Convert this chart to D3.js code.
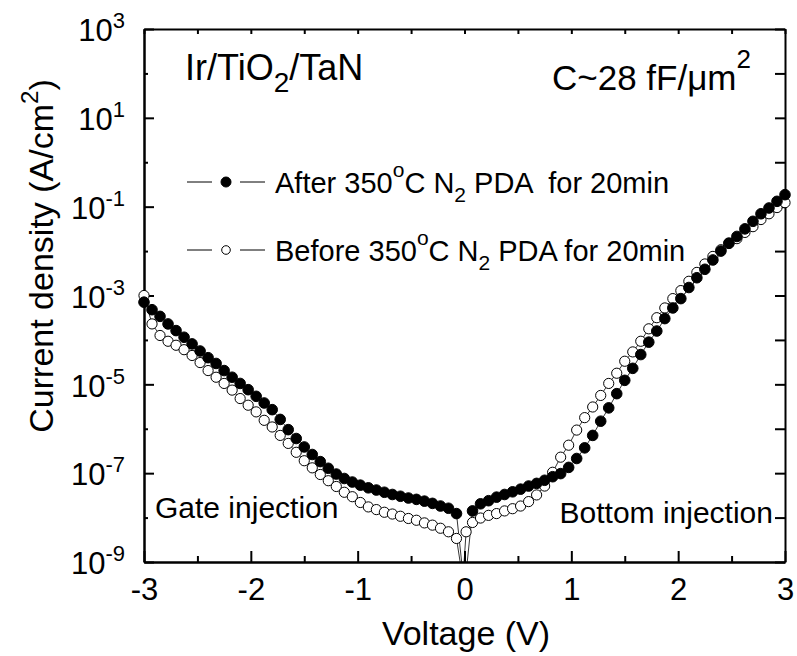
<!DOCTYPE html>
<html>
<head>
<meta charset="utf-8">
<script src="https://cdn.jsdelivr.net/npm/d3@7"></script>
<style>
  body { margin: 0; background: #fff; }
  text { font-family: "Liberation Sans", Arial, sans-serif; fill: #000; white-space: pre; }
</style>
</head>
<body>
<svg id="chart" width="797" height="656"></svg>
<script>
// ----- Data (log10 of current density, A/cm^2) ------------------------------
var AFTER_V = [-3, -2.925, -2.85, -2.775, -2.7, -2.625, -2.55, -2.475, -2.4, -2.325,
  -2.25, -2.175, -2.1, -2.025, -1.95, -1.875, -1.8, -1.725, -1.65, -1.575,
  -1.5, -1.425, -1.35, -1.275, -1.2, -1.125, -1.05, -0.975, -0.9, -0.825,
  -0.75, -0.675, -0.6, -0.525, -0.45, -0.375, -0.3, -0.225, -0.15, -0.075,
  0, 0.075, 0.15, 0.225, 0.3, 0.375, 0.45, 0.525, 0.6, 0.675,
  0.75, 0.825, 0.9, 0.975, 1.05, 1.125, 1.2, 1.275, 1.35, 1.425,
  1.5, 1.575, 1.65, 1.725, 1.8, 1.875, 1.95, 2.025, 2.1, 2.175,
  2.25, 2.325, 2.4, 2.475, 2.55, 2.625, 2.7, 2.775, 2.85, 2.925, 3];
var AFTER_LOGJ = [-3.15, -3.32, -3.47, -3.64, -3.79, -3.94, -4.09, -4.25, -4.40, -4.53,
  -4.69, -4.84, -4.98, -5.12, -5.27, -5.42, -5.57, -5.79, -6.02, -6.22,
  -6.41, -6.58, -6.74, -6.89, -7.02, -7.12, -7.20, -7.27, -7.33, -7.38,
  -7.43, -7.48, -7.52, -7.56, -7.59, -7.63, -7.68, -7.74, -7.79, -7.91,
  -9.6, -7.85, -7.69, -7.62, -7.54, -7.48, -7.42, -7.36, -7.29, -7.23,
  -7.16, -7.08, -7.01, -6.87, -6.67, -6.43, -6.15, -5.83, -5.53, -5.21,
  -4.91, -4.64, -4.33, -4.05, -3.80, -3.52, -3.28, -3.07, -2.82, -2.60,
  -2.41, -2.20, -2.00, -1.82, -1.67, -1.50, -1.33, -1.16, -1.03, -0.88, -0.73];

var BEFORE_V = [-3, -2.925, -2.85, -2.775, -2.7, -2.625, -2.55, -2.475, -2.4, -2.325,
  -2.25, -2.175, -2.1, -2.025, -1.95, -1.875, -1.8, -1.725, -1.65, -1.575,
  -1.5, -1.425, -1.35, -1.275, -1.2, -1.125, -1.05, -0.975, -0.9, -0.825,
  -0.75, -0.675, -0.6, -0.525, -0.45, -0.375, -0.3, -0.225, -0.15, -0.075,
  -0.015, 0.015, 0.075, 0.15, 0.225, 0.3, 0.375, 0.45, 0.525, 0.6, 0.675,
  0.75, 0.825, 0.9, 0.975, 1.05, 1.125, 1.2, 1.275, 1.35, 1.425,
  1.5, 1.575, 1.65, 1.725, 1.8, 1.875, 1.95, 2.025, 2.1, 2.175,
  2.25, 2.325, 2.4, 2.475, 2.55, 2.625, 2.7, 2.775, 2.85, 2.925, 3];
var BEFORE_LOGJ = [-3.00, -3.64, -3.90, -4.03, -4.12, -4.22, -4.35, -4.51, -4.69, -4.84,
  -4.98, -5.13, -5.32, -5.47, -5.62, -5.81, -5.96, -6.15, -6.33, -6.53,
  -6.72, -6.88, -7.03, -7.17, -7.30, -7.43, -7.53, -7.66, -7.76, -7.82,
  -7.88, -7.92, -7.97, -8.02, -8.06, -8.12, -8.17, -8.24, -8.32, -8.47,
  -9.4, -8.32, -8.11, -8.01, -7.95, -7.91, -7.85, -7.80, -7.74, -7.64, -7.49,
  -7.29, -6.98, -6.64, -6.37, -6.03, -5.75, -5.51, -5.25, -4.98, -4.75,
  -4.48, -4.27, -4.03, -3.75, -3.50, -3.28, -3.07, -2.89, -2.68, -2.48,
  -2.29, -2.12, -1.97, -1.83, -1.72, -1.58, -1.45, -1.29, -1.16, -1.02, -0.91];

var X_MAJOR = [-3, -2, -1, 0, 1, 2, 3];
var X_MINOR = [-2.5, -1.5, -0.5, 0.5, 1.5, 2.5];
var Y_LABELED = [1e3, 1e1, 1e-1, 1e-3, 1e-5, 1e-7, 1e-9];
var Y_UNLABELED = [1e2, 1e0, 1e-2, 1e-4, 1e-6, 1e-8];

var SVG = d3.select('#chart');
var FONT_TICK = 31;

function toPoints(vs, logs) {
  return vs.map((v, i) => ({ v: v, j: Math.pow(10, logs[i]) }));
}

// ----- Scales ----------------------------------------------------------------
var margin = { top: 29, right: 12, bottom: 94, left: 144 };
var W = 797 - margin.left - margin.right;
var H = 656 - margin.top - margin.bottom;

var x = d3.scaleLinear().domain([-3, 3]).range([margin.left, margin.left + W]);
var y = d3.scaleLog().domain([1e-9, 1e3]).range([margin.top + H, margin.top]);

// ----- Axes ------------------------------------------------------------------
function styleAxis(g) {
  g.selectAll('path.domain').attr('stroke', '#000').attr('stroke-width', 2);
  g.selectAll('.tick line').attr('stroke', '#000').attr('stroke-width', 2);
}

var bottom = SVG.append('g')
    .attr('transform', 'translate(0,' + (margin.top + H) + ')')
    .call(d3.axisBottom(x).tickValues(X_MAJOR).tickSize(-11).tickSizeOuter(0)
      .tickPadding(16).tickFormat((d) => String(d)))
    .call(styleAxis);
bottom.selectAll('.tick text').attr('font-size', FONT_TICK).attr('font-family', null);
SVG.append('g')
    .attr('transform', 'translate(0,' + (margin.top + H) + ')')
    .call(d3.axisBottom(x).tickValues(X_MINOR).tickSize(-6).tickSizeOuter(0).tickFormat(''))
    .call(styleAxis);

SVG.append('g')
    .attr('transform', 'translate(0,' + margin.top + ')')
    .call(d3.axisTop(x).tickValues(X_MAJOR.concat(X_MINOR)).tickSize(-5).tickSizeOuter(0).tickFormat(''))
    .call(styleAxis);

var left = SVG.append('g')
    .attr('transform', 'translate(' + margin.left + ',0)')
    .call(d3.axisLeft(y).tickValues(Y_LABELED).tickSize(-10).tickSizeOuter(0).tickPadding(19))
    .call(styleAxis);
left.selectAll('.tick text')
    .attr('font-size', FONT_TICK).attr('font-family', null).attr('dy', '0.38em')
    .each(function (d) {
      var t = d3.select(this);
      t.text(null);
      t.append('tspan').text('10');
      t.append('tspan').attr('font-size', 22).attr('dy', -13).text(Math.round(Math.log10(d)));
    });
SVG.append('g')
    .attr('transform', 'translate(' + margin.left + ',0)')
    .call(d3.axisLeft(y).tickValues(Y_UNLABELED).tickSize(-4).tickSizeOuter(0).tickFormat(''))
    .call(styleAxis);

SVG.append('g')
    .attr('transform', 'translate(' + (margin.left + W) + ',0)')
    .call(d3.axisRight(y).tickValues(Y_LABELED.concat(Y_UNLABELED)).tickSize(-10).tickSizeOuter(0).tickFormat(''))
    .call(styleAxis);

// ----- Series ----------------------------------------------------------------
SVG.append('clipPath').attr('id', 'plot-clip')
  .append('rect')
    .attr('x', margin.left).attr('y', margin.top)
    .attr('width', W).attr('height', H);

var line = d3.line().x((d) => x(d.v)).y((d) => y(d.j));
var series = [
  { pts: toPoints(BEFORE_V, BEFORE_LOGJ), fill: '#fff', r: 5.1 },
  { pts: toPoints(AFTER_V, AFTER_LOGJ), fill: '#000', r: 5.3 }
];

series.forEach(function (s) {
  SVG.append('path')
      .datum(s.pts)
      .attr('clip-path', 'url(#plot-clip)')
      .attr('fill', 'none')
      .attr('stroke', '#000')
      .attr('stroke-width', 0.8)
      .attr('d', line);
});
series.forEach(function (s) {
  SVG.append('g').selectAll('circle')
      .data(s.pts.filter((d) => d.j >= 1e-9))
    .enter().append('circle')
      .attr('cx', (d) => x(d.v))
      .attr('cy', (d) => y(d.j))
      .attr('r', s.r)
      .attr('fill', s.fill)
      .attr('stroke', '#000')
      .attr('stroke-width', 1);
});

// ----- Legend ----------------------------------------------------------------
var legendRows = [
  { y: 182, fill: '#000', r: 5, pre: 'After 350', post: ' PDA  for 20min' },
  { y: 250, fill: '#fff', r: 4.3, pre: 'Before 350', post: ' PDA for 20min' }
];
legendRows.forEach(function (row) {
  var g = SVG.append('g');
  g.append('line').attr('x1', 187).attr('x2', 212).attr('y1', row.y).attr('y2', row.y)
    .attr('stroke', '#000').attr('stroke-width', 1);
  g.append('line').attr('x1', 240).attr('x2', 265).attr('y1', row.y).attr('y2', row.y)
    .attr('stroke', '#000').attr('stroke-width', 1);
  g.append('circle').attr('cx', 226).attr('cy', row.y).attr('r', row.r)
    .attr('fill', row.fill).attr('stroke', '#000').attr('stroke-width', 1);
  var t = g.append('text').attr('x', 275).attr('y', row.y + 11).attr('font-size', 29);
  t.append('tspan').text(row.pre);
  t.append('tspan').attr('font-size', 21).attr('dy', -16).text('o');
  t.append('tspan').attr('dy', 16).text('C N');
  t.append('tspan').attr('font-size', 21).attr('dy', 9).text('2');
  t.append('tspan').attr('dy', -9).text(row.post);
});

// ----- Annotations -----------------------------------------------------------
var t1 = SVG.append('text').attr('x', 185).attr('y', 80).attr('font-size', 36);
t1.append('tspan').text('Ir/TiO');
t1.append('tspan').attr('font-size', 28).attr('dy', 12).text('2');
t1.append('tspan').attr('dy', -12).text('/TaN');

var t2 = SVG.append('text').attr('x', 552).attr('y', 90).attr('font-size', 35);
t2.append('tspan').text('C~28 fF/\u03bcm');
t2.append('tspan').attr('font-size', 26).attr('dy', -22).text('2');

SVG.append('text').attr('x', 155).attr('y', 518).attr('font-size', 30).text('Gate injection');
SVG.append('text').attr('x', 773).attr('y', 523).attr('font-size', 30)
    .attr('text-anchor', 'end').text('Bottom injection');

// ----- Axis titles -----------------------------------------------------------
SVG.append('text').attr('x', 466).attr('y', 645).attr('font-size', 34)
    .attr('text-anchor', 'middle').text('Voltage (V)');

var yt = SVG.append('text')
    .attr('transform', 'translate(53,256) rotate(-90)')
    .attr('font-size', 34).attr('text-anchor', 'middle');
yt.append('tspan').text('Current density (A/cm');
yt.append('tspan').attr('font-size', 24).attr('dy', -15).text('2');
yt.append('tspan').attr('dy', 15).text(')');
</script>
</body>
</html>
